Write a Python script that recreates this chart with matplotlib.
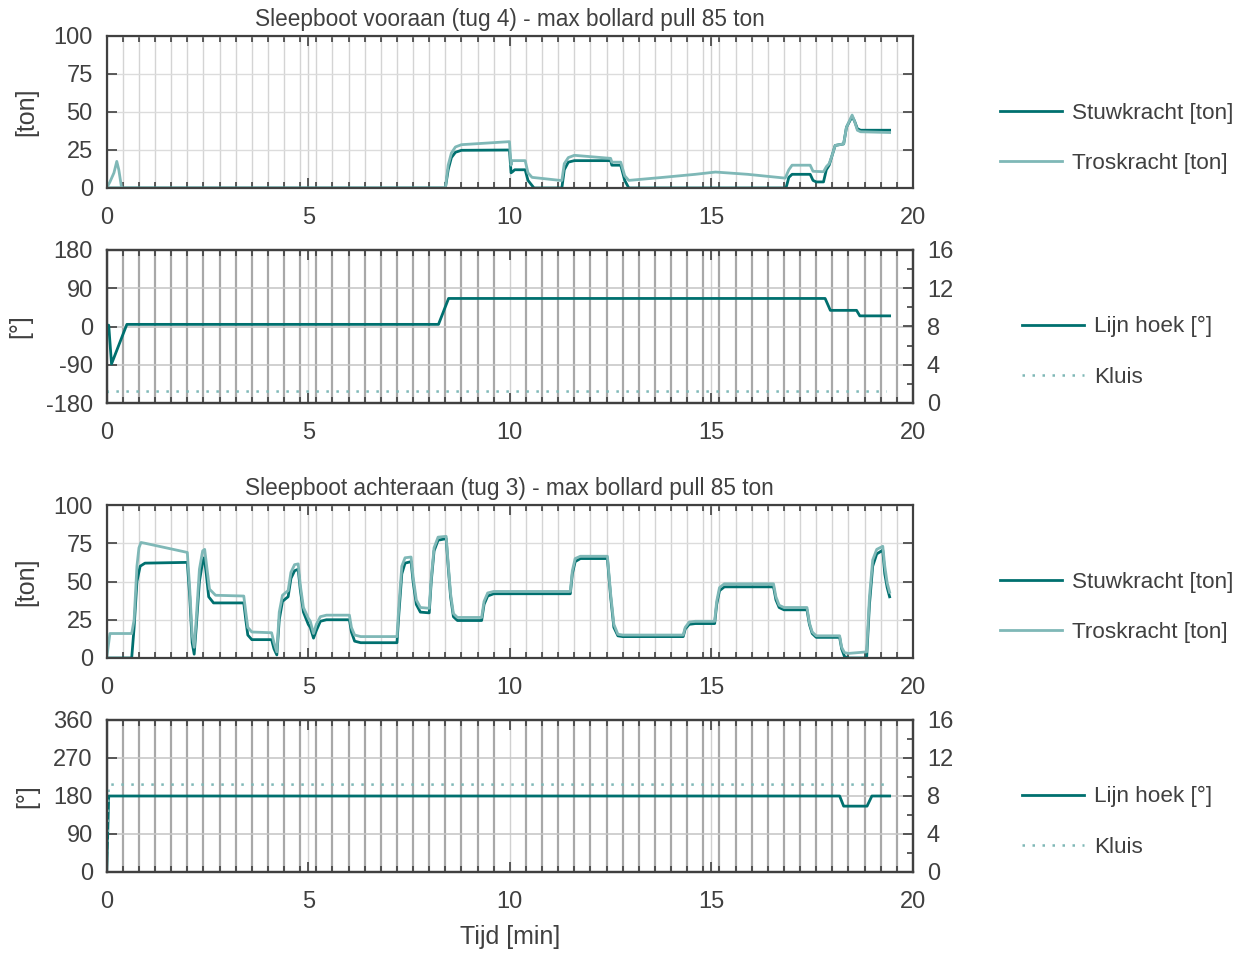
import matplotlib
matplotlib.use('Agg')
import matplotlib.pyplot as plt
from matplotlib.ticker import MultipleLocator

plt.rcParams['font.family'] = ['Liberation Sans', 'DejaVu Sans']
plt.rcParams['axes.unicode_minus'] = False
plt.rcParams['text.color'] = '#404040'
plt.rcParams['axes.labelcolor'] = '#404040'
plt.rcParams['xtick.color'] = '#404040'
plt.rcParams['ytick.color'] = '#404040'

DARK = '#00706f'
LIGHT = '#7fb8b7'

# ---- tug 4 (vooraan) : (tijd [min], waarde)
stuw4 = [(0, 0), (8.4, 0), (8.47, 12), (8.55, 20), (8.65, 23.5), (8.8, 24.8), (9.99, 25),
         (10.03, 10), (10.08, 11), (10.12, 12), (10.38, 12), (10.45, 5), (10.6, 0),
         (11.29, 0), (11.35, 12), (11.45, 17), (11.6, 18), (12.5, 18), (12.53, 15),
         (12.75, 15), (12.85, 5), (12.95, 0), (16.85, 0), (16.92, 7), (17.0, 9),
         (17.45, 9), (17.52, 5), (17.6, 4), (17.78, 4), (17.85, 12), (17.92, 15),
         (18.0, 22), (18.07, 28), (18.28, 29), (18.35, 40), (18.49, 47), (18.55, 44),
         (18.62, 39), (18.7, 38), (19.42, 38)]
trosk4 = [(0, 0), (0.08, 4), (0.18, 10), (0.25, 17.5), (0.3, 12), (0.37, 0), (8.4, 0),
          (8.47, 15), (8.55, 23), (8.65, 27), (8.8, 28.5), (9.99, 30.5), (10.03, 15),
          (10.05, 18), (10.38, 18), (10.45, 10), (10.55, 7), (11.25, 5), (11.29, 5),
          (11.35, 16), (11.45, 20), (11.6, 21.5), (12.5, 19.5), (12.53, 17), (12.75, 17),
          (12.85, 8), (12.95, 5), (13.8, 7), (14.6, 9), (15.1, 10.5), (15.9, 9),
          (16.83, 6.5), (16.92, 12), (17.0, 15),
          (17.45, 15), (17.52, 11), (17.78, 10.7), (17.85, 14), (17.92, 16), (18.0, 22),
          (18.07, 28), (18.28, 29), (18.35, 40), (18.49, 48), (18.55, 44), (18.62, 38),
          (18.7, 37), (19.42, 36.5)]
hoek4 = [(0, 3), (0.05, 3), (0.12, -88), (0.5, 5), (8.23, 5), (8.48, 66), (17.82, 66),
         (17.95, 38), (18.6, 38), (18.68, 25), (19.42, 25)]
kluis4 = [(0, 0), (0.03, 1.2), (19.35, 1.2)]

# ---- tug 3 (achteraan)
stuw3 = [(0, 0), (0.62, 0), (0.68, 20), (0.75, 50), (0.83, 60), (0.95, 62), (2.0, 62.5),
         (2.06, 40), (2.12, 10), (2.17, 2.5), (2.22, 20), (2.3, 50), (2.38, 63), (2.42, 65.5),
         (2.47, 55), (2.53, 40), (2.65, 36), (3.4, 36), (3.45, 25), (3.5, 15), (3.6, 12),
         (4.09, 12), (4.15, 6), (4.22, 2), (4.28, 25), (4.36, 37), (4.45, 39), (4.5, 40),
         (4.57, 52), (4.66, 57), (4.75, 58), (4.8, 45), (4.88, 30), (5.0, 22), (5.05, 20),
         (5.13, 13), (5.2, 18), (5.3, 24), (5.45, 25), (6.02, 25), (6.07, 17), (6.15, 11),
         (6.3, 10), (7.2, 10), (7.25, 30), (7.32, 55), (7.4, 62), (7.55, 63), (7.6, 50),
         (7.68, 35), (7.78, 30), (8.0, 29.5), (8.05, 50), (8.12, 70), (8.22, 77), (8.42, 78),
         (8.47, 60), (8.53, 40), (8.6, 27), (8.7, 24.5), (9.3, 24.5), (9.36, 35), (9.45, 40.5),
         (9.6, 42), (11.5, 42), (11.55, 55), (11.62, 63), (11.75, 65), (12.42, 65), (12.5, 40),
         (12.58, 20), (12.68, 14.5), (12.8, 14), (14.3, 14), (14.35, 19), (14.45, 22),
         (14.6, 22.5), (15.08, 22.5), (15.13, 35), (15.2, 44), (15.32, 46.5), (16.54, 46.5),
         (16.6, 38), (16.68, 33), (16.8, 31.5), (17.37, 31.5), (17.43, 22), (17.5, 16),
         (17.6, 13.5), (18.18, 13.5), (18.23, 6), (18.3, 1), (18.4, 0), (18.85, 0),
         (18.92, 35), (19.0, 60), (19.1, 68), (19.25, 70.5), (19.3, 55), (19.36, 46),
         (19.42, 40)]
trosk3 = [(0, 0), (0.08, 16), (0.62, 16), (0.68, 25), (0.75, 60), (0.8, 72), (0.85, 75.5),
          (0.95, 75), (2.0, 69), (2.06, 45), (2.12, 15), (2.17, 7), (2.22, 25), (2.3, 58),
          (2.38, 70), (2.43, 71), (2.48, 60), (2.55, 45), (2.7, 41), (3.4, 40.5), (3.45, 30),
          (3.5, 20), (3.6, 17), (4.09, 16.5), (4.15, 10), (4.22, 4), (4.28, 30), (4.36, 41),
          (4.45, 43), (4.5, 44), (4.57, 56), (4.66, 61), (4.75, 61.5), (4.8, 48), (4.88, 33),
          (5.0, 26), (5.05, 24), (5.13, 16), (5.2, 22), (5.3, 27), (5.45, 28), (6.02, 28),
          (6.07, 20), (6.15, 15), (6.3, 14), (7.2, 14), (7.25, 35), (7.32, 60), (7.4, 65.5),
          (7.55, 66), (7.6, 53), (7.68, 38), (7.78, 33), (8.0, 32.5), (8.05, 52), (8.12, 72),
          (8.22, 79), (8.42, 79.5), (8.47, 62), (8.53, 42), (8.6, 29), (8.7, 26.5), (9.3, 26.5),
          (9.36, 37), (9.45, 42.5), (9.6, 43.5), (11.5, 43.5), (11.55, 57), (11.62, 65),
          (11.75, 66.5), (12.42, 66.5), (12.5, 42), (12.58, 22), (12.68, 15.5), (12.8, 15),
          (14.3, 15), (14.35, 20), (14.45, 23.5), (14.6, 24), (15.08, 24), (15.13, 37),
          (15.2, 46), (15.32, 48.5), (16.54, 48.5), (16.6, 40), (16.68, 34.5), (16.8, 33),
          (17.37, 33), (17.43, 23), (17.5, 17), (17.6, 14.5), (18.18, 14.5), (18.23, 7),
          (18.3, 3.5), (18.4, 3), (18.85, 4), (18.92, 40), (19.0, 64), (19.1, 71),
          (19.25, 73), (19.3, 60), (19.36, 49), (19.42, 43)]
hoek3 = [(0, 0), (0.05, 180), (18.18, 180), (18.28, 156), (18.86, 156), (18.98, 180),
         (19.42, 180)]
kluis3 = [(0, 0), (0.05, 9.2), (19.34, 9.2)]

titles = ['Sleepboot vooraan (tug 4) - max bollard pull 85 ton',
          'Sleepboot achteraan (tug 3) - max bollard pull 85 ton']
force_labels = ['Stuwkracht [ton]', 'Troskracht [ton]']
angle_labels = ['Lijn hoek [°]', 'Kluis']

W, H = 1243, 959
fig = plt.figure(figsize=(W / 100, H / 100), dpi=100)


def box(top, bottom):
    left, right = 106.7, 913
    return [left / W, 1 - bottom / H, (right - left) / W, (bottom - top) / H]


def style_x(ax, minor_color, minor_lw):
    ax.set_xlim(0, 20)
    ax.xaxis.set_major_locator(MultipleLocator(5))
    ax.xaxis.set_minor_locator(MultipleLocator(0.4))
    ax.grid(which='major', axis='x', color='#d0d0d0', lw=1.0)
    ax.grid(which='minor', axis='x', color=minor_color, lw=minor_lw)
    ax.tick_params(axis='x', which='both', direction='in', top=True, labelsize=17, pad=14)
    ax.tick_params(axis='x', which='major', length=7, width=1.2)
    ax.tick_params(axis='x', which='minor', length=4, width=1.2)
    for s in ax.spines.values():
        s.set_color('#404040')
        s.set_linewidth(1.6)


def force_panel(rect, stuw, trosk, title):
    ax = fig.add_axes(rect)
    style_x(ax, '#d4d4d4', 1.0)
    ax.set_ylim(0, 100)
    ax.set_yticks([0, 25, 50, 75, 100])
    ax.grid(which='major', axis='y', color='#dcdcdc', lw=1.0)
    ax.tick_params(axis='y', direction='in', right=True, length=7, width=1.2,
                   labelsize=17, pad=10)
    ax.set_axisbelow(True)
    t, v = zip(*stuw)
    ax.plot(t, v, color=DARK, lw=2, label=force_labels[0])
    t, v = zip(*trosk)
    ax.plot(t, v, color=LIGHT, lw=2, label=force_labels[1])
    ax.set_ylabel('[ton]', fontsize=18, labelpad=11)
    ax.set_title(title, fontsize=16.3, pad=7)
    return ax


def angle_panel(rect, hoek, kluis, ylim, yticks):
    ax = fig.add_axes(rect)
    style_x(ax, '#a8a8a8', 1.6)
    ax.set_ylim(*ylim)
    ax.set_yticks(yticks)
    ax.grid(which='major', axis='y', color='#c8c8c8', lw=1.2)
    ax.tick_params(axis='y', direction='in', length=7, width=1.2, labelsize=17, pad=10)
    ax.set_axisbelow(True)
    t, v = zip(*hoek)
    l1, = ax.plot(t, v, color=DARK, lw=2, label=angle_labels[0], zorder=3)
    ax.set_ylabel('[°]', fontsize=18, labelpad=10)
    ax2 = ax.twinx()
    ax2.set_ylim(0, 16)
    ax2.set_yticks([0, 4, 8, 12, 16])
    ax2.yaxis.set_minor_locator(MultipleLocator(2))
    ax2.tick_params(axis='y', which='both', direction='in', labelsize=17, pad=10, width=1.2)
    ax2.tick_params(axis='y', which='major', length=7)
    ax2.tick_params(axis='y', which='minor', length=4)
    for s in ax2.spines.values():
        s.set_color('#404040')
        s.set_linewidth(1.6)
    t, v = zip(*kluis)
    l2, = ax2.plot(t, v, color=LIGHT, lw=1.8, ls=(0, (1, 3)), label=angle_labels[1])
    return ax, [l1, l2]


leg_kw = dict(frameon=False, fontsize=16.2, handlelength=2.75, handletextpad=0.45,
              labelspacing=1.3, borderaxespad=0, borderpad=0, loc='center left')

ax1 = force_panel(box(36, 188), stuw4, trosk4, titles[0])
fig.legend(*ax1.get_legend_handles_labels(), bbox_to_anchor=(1000 / W, 1 - 138.5 / H), **leg_kw)

ax2, h2 = angle_panel(box(250, 403), hoek4, kluis4, (-180, 180), [-180, -90, 0, 90, 180])
fig.legend(h2, angle_labels, bbox_to_anchor=(1022 / W, 1 - 352 / H), **leg_kw)

ax3 = force_panel(box(505, 658), stuw3, trosk3, titles[1])
fig.legend(*ax3.get_legend_handles_labels(), bbox_to_anchor=(1000 / W, 1 - 607.5 / H), **leg_kw)

ax4, h4 = angle_panel(box(720, 872), hoek3, kluis3, (0, 360), [0, 90, 180, 270, 360])
fig.legend(h4, angle_labels, bbox_to_anchor=(1022 / W, 1 - 822 / H), **leg_kw)
ax4.set_xlabel('Tijd [min]', fontsize=18, labelpad=8)

fig.savefig('out.png', dpi=100)
